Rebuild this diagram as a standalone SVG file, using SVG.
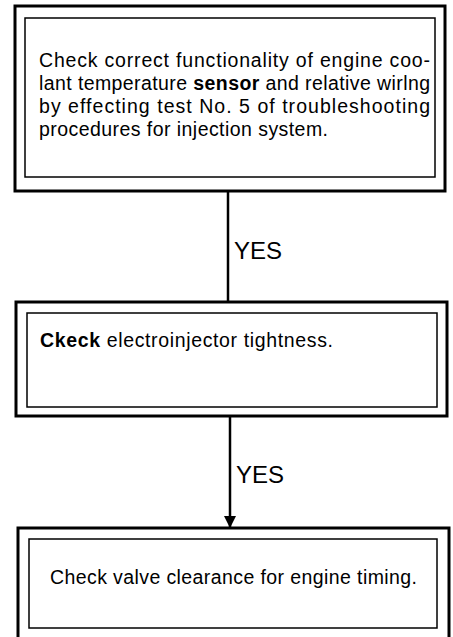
<svg xmlns="http://www.w3.org/2000/svg" width="453" height="637" viewBox="0 0 453 637">
<style>
.outer{fill:none;stroke:#000;stroke-width:3}
.inner{fill:none;stroke:#000;stroke-width:1.5}
.conn{fill:none;stroke:#000;stroke-width:2.5}
.t{font-family:"Liberation Sans",Arial,sans-serif;font-size:19.5px;fill:#000}
.lbl{font-family:"Liberation Sans",Arial,sans-serif;font-size:24px;fill:#000}
</style>
<defs>
<marker id="arr" viewBox="0 0 12 12" refX="12" refY="6" markerWidth="12" markerHeight="12" markerUnits="userSpaceOnUse" orient="auto">
<path d="M0,0 L12,6 L0,12 Z" fill="#000"/>
</marker>
</defs>
<rect width="453" height="637" fill="#fff"/>
<g id="node1">
<rect class="outer" x="15" y="6" width="430" height="185"/>
<rect class="inner" x="25" y="18" width="410" height="159"/>
<text class="t" x="39" y="67" textLength="391" lengthAdjust="spacing">Check correct functionality of engine coo-</text>
<text class="t" x="39" y="90" textLength="391" lengthAdjust="spacing">lant temperature <tspan font-weight="bold">sensor</tspan> and relative wirlng</text>
<text class="t" x="39" y="113" textLength="391" lengthAdjust="spacing">by effecting test No. 5 of troubleshooting</text>
<text class="t" x="39" y="136" textLength="289" lengthAdjust="spacing">procedures for injection system.</text>
</g>
<g id="node2">
<rect class="outer" x="16" y="302" width="431" height="114"/>
<rect class="inner" x="27" y="313" width="410" height="94"/>
<text class="t" x="40" y="347" textLength="293" lengthAdjust="spacing"><tspan font-weight="bold">Ckeck</tspan> electroinjector tightness.</text>
</g>
<g id="node3">
<rect class="outer" x="18" y="528" width="431" height="120"/>
<rect class="inner" x="29" y="539" width="408" height="89"/>
<text class="t" x="50" y="584" textLength="367" lengthAdjust="spacing">Check valve clearance for engine timing.</text>
</g>
<g id="connectors">
<line class="conn" x1="228" y1="191" x2="228" y2="302"/>
<text class="lbl" x="234" y="259">YES</text>
<line class="conn" x1="230" y1="416" x2="230" y2="528" marker-end="url(#arr)"/>
<text class="lbl" x="236" y="483">YES</text>
</g>
</svg>
